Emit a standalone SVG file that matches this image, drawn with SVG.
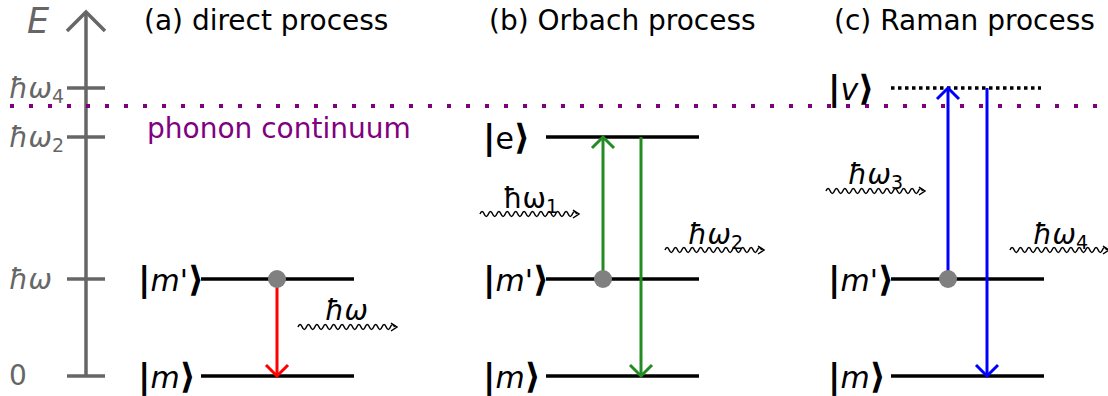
<svg xmlns="http://www.w3.org/2000/svg" width="1108" height="396" viewBox="0 0 1108 396">
<style>
text{font-family:"DejaVu Sans","Liberation Sans",sans-serif}
.title{font-size:28px;fill:#000}
.ax{stroke:#666;stroke-width:3.5;fill:none}
.axl{font-size:28px;fill:#666}
.lvl{stroke:#000;stroke-width:3.5}
.ket{font-size:30px;fill:#000}
.b{font-weight:bold;font-size:34px}
.br{font-weight:bold;font-size:35px}
.it{font-style:italic}
.sub{font-size:19px}
.ph{font-size:28px;fill:#000}
.wave{stroke:#000;stroke-width:1.5;fill:none}
.dot{fill:#808080}
</style>
<defs>
<path id="wv" d="M0,0 q2.1,-5 4.2,0 t4.2,0 t4.2,0 t4.2,0 t4.2,0 t4.2,0 t4.2,0 t4.2,0 t4.2,0 t4.2,0 t4.2,0 t4.2,0 t4.2,0 t4.2,0 t4.2,0 t4.2,0 t4.2,0 t4.2,0 t4.2,0 t4.2,0 t4.2,0 t4.2,0 t4.2,0 M93,-4 l6,4 l-6,4"/>
</defs>
<g id="axis">
<line class="ax" x1="86" y1="376" x2="86" y2="12"/>
<polyline class="ax" points="67,31 86,12 105,31"/>
<line class="ax" x1="67" y1="88" x2="105" y2="88"/>
<line class="ax" x1="67" y1="137" x2="105" y2="137"/>
<line class="ax" x1="67" y1="279" x2="105" y2="279"/>
<line class="ax" x1="67" y1="376" x2="105" y2="376"/>
<text x="27" y="33" class="it" style="font-size:35px;fill:#666">E</text>
<text x="9" y="98" class="axl"><tspan class="it">ħω</tspan><tspan class="sub" dy="5">4</tspan></text>
<text x="9" y="147" class="axl"><tspan class="it">ħω</tspan><tspan class="sub" dy="5">2</tspan></text>
<text x="9" y="289" class="axl"><tspan class="it">ħω</tspan></text>
<text x="9" y="385" class="axl">0</text>
</g>
<g id="continuum">
<line x1="10" y1="106" x2="1108" y2="106" stroke="#800080" stroke-width="4" stroke-dasharray="4,15"/>
<text x="147" y="138" style="font-size:28px;fill:#800080">phonon continuum</text>
</g>
<g id="titles">
<text x="144" y="30" class="title">(a) direct process</text>
<text x="489" y="30" class="title">(b) Orbach process</text>
<text x="834" y="30" class="title">(c) Raman process</text>
</g>
<g id="panel-a">
<line class="lvl" x1="201" y1="279" x2="354" y2="279"/>
<line class="lvl" x1="201" y1="376" x2="354" y2="376"/>
<text x="138" y="291" class="ket"><tspan class="b">|</tspan><tspan class="it">m</tspan>'<tspan class="br">⟩</tspan></text>
<text x="138" y="388" class="ket"><tspan class="b">|</tspan><tspan class="it">m</tspan><tspan class="br">⟩</tspan></text>
</g>
<g id="panel-b">
<line class="lvl" x1="546" y1="137" x2="699" y2="137"/>
<line class="lvl" x1="546" y1="279" x2="699" y2="279"/>
<line class="lvl" x1="546" y1="376" x2="699" y2="376"/>
<text x="483" y="149" class="ket"><tspan class="b">|</tspan>e<tspan class="br">⟩</tspan></text>
<text x="483" y="291" class="ket"><tspan class="b">|</tspan><tspan class="it">m</tspan>'<tspan class="br">⟩</tspan></text>
<text x="483" y="388" class="ket"><tspan class="b">|</tspan><tspan class="it">m</tspan><tspan class="br">⟩</tspan></text>
</g>
<g id="panel-c">
<line x1="891" y1="88" x2="1041" y2="88" stroke="#000" stroke-width="3.5" stroke-dasharray="3.5,3.5"/>
<line class="lvl" x1="891" y1="279" x2="1044" y2="279"/>
<line class="lvl" x1="891" y1="376" x2="1044" y2="376"/>
<text x="828" y="100" class="ket"><tspan class="b">|</tspan><tspan class="it">v</tspan><tspan class="br">⟩</tspan></text>
<text x="828" y="291" class="ket"><tspan class="b">|</tspan><tspan class="it">m</tspan>'<tspan class="br">⟩</tspan></text>
<text x="828" y="388" class="ket"><tspan class="b">|</tspan><tspan class="it">m</tspan><tspan class="br">⟩</tspan></text>
</g>
<g id="connectors">
<g stroke="#ff0000" stroke-width="3" fill="none">
<line x1="277" y1="279" x2="277" y2="376"/>
<polyline points="266,365 277,376 288,365"/>
</g>
<g stroke="#228b22" stroke-width="3" fill="none">
<line x1="603" y1="279" x2="603" y2="137"/>
<polyline points="592,148 603,137 614,148"/>
<line x1="641" y1="137" x2="641" y2="376"/>
<polyline points="630,365 641,376 652,365"/>
</g>
<g stroke="#0000ff" stroke-width="3" fill="none">
<line x1="948" y1="279" x2="948" y2="88"/>
<polyline points="937,99 948,88 959,99"/>
<line x1="987" y1="88" x2="987" y2="376"/>
<polyline points="976,365 987,376 998,365"/>
</g>
<circle class="dot" cx="277" cy="279" r="9"/>
<circle class="dot" cx="603" cy="279" r="9"/>
<circle class="dot" cx="948" cy="279" r="9"/>
<use href="#wv" class="wave" x="298" y="327"/>
<use href="#wv" class="wave" x="480" y="214"/>
<use href="#wv" class="wave" x="665" y="250"/>
<use href="#wv" class="wave" x="826" y="191"/>
<use href="#wv" class="wave" x="1010" y="250"/>
</g>
<g id="labels">
<text x="325" y="320" class="ph"><tspan class="it">ħω</tspan></text>
<text x="503" y="208" class="ph">ħω<tspan class="sub" dy="5">1</tspan></text>
<text x="688" y="244" class="ph"><tspan class="it">ħω</tspan><tspan class="sub" dy="5">2</tspan></text>
<text x="848" y="184" class="ph"><tspan class="it">ħω</tspan><tspan class="sub" dy="5">3</tspan></text>
<text x="1033" y="244" class="ph"><tspan class="it">ħω</tspan><tspan class="sub" dy="5">4</tspan></text>
</g>
</svg>
